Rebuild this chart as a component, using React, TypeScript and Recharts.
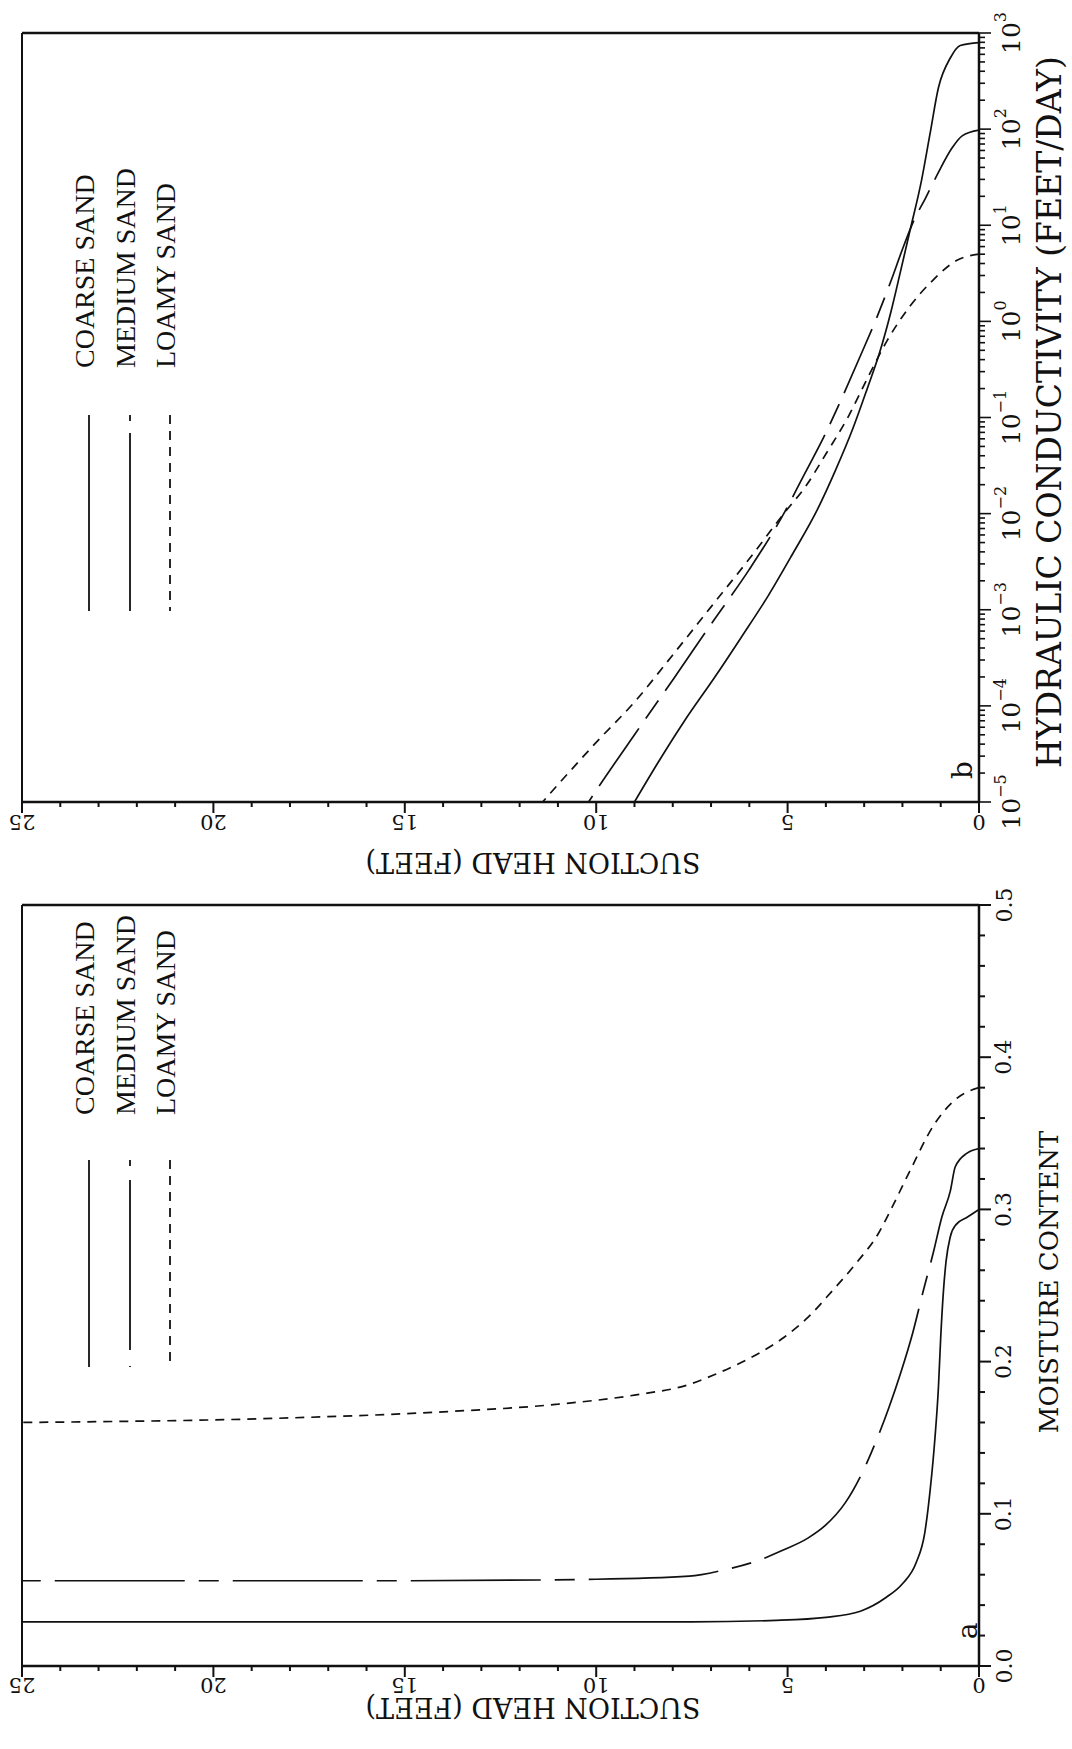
import { LineChart, Line, XAxis, YAxis, ReferenceLine, Legend } from 'recharts';

const FONT = '"DejaVu Serif", "Liberation Serif", serif';
const LEGEND_FONT = '"Liberation Serif", "Times New Roman", serif';
const INK = '#111';

// suction head axis, shared by both panels
const headTicks = [0, 1, 2, 3, 4, 5, 6, 7, 8, 9, 10, 11, 12, 13, 14, 15, 16, 17, 18, 19, 20, 21, 22, 23, 24, 25];

// moisture content axis (panel a)
const moistureTicks = [0, 0.02, 0.04, 0.06, 0.08, 0.1, 0.12, 0.14, 0.16, 0.18, 0.2, 0.22, 0.24, 0.26, 0.28, 0.3, 0.32, 0.34, 0.36, 0.38, 0.4, 0.42, 0.44, 0.46, 0.48, 0.5];
const moistureLabels = ['0.0', '0.1', '0.2', '0.3', '0.4', '0.5'];

// hydraulic conductivity axis (panel b), decades 10^-5 .. 10^3
const decadeExps = [-5, -4, -3, -2, -1, 0, 1, 2, 3];
const minorMults = [2, 3, 4, 5, 6, 7, 8, 9];

const seriesNames = ['COARSE SAND', 'MEDIUM SAND', 'LOAMY SAND'];

// panel a: suction head (ft) vs moisture content
const coarseHeadA = [0, 0.3, 0.6, 0.75, 0.86, 0.93, 1.0, 1.06, 1.15, 1.27, 1.42, 1.64, 2.0, 2.43, 3.1, 4.0, 5.3, 7.5, 12, 18, 25];
const coarseMoist = [0.3, 0.295, 0.29, 0.282, 0.266, 0.246, 0.216, 0.183, 0.15, 0.117, 0.087, 0.068, 0.054, 0.045, 0.036, 0.032, 0.03, 0.029, 0.029, 0.029, 0.029];
const mediumHeadA = [0, 0.31, 0.62, 0.75, 0.97, 1.19, 1.46, 1.73, 2.04, 2.35, 2.7, 3.05, 3.5, 4.03, 4.47, 5.13, 5.8, 6.68, 7.57, 10, 15, 20, 25];
const mediumMoist = [0.34, 0.337, 0.328, 0.312, 0.295, 0.272, 0.246, 0.219, 0.193, 0.17, 0.147, 0.127, 0.107, 0.092, 0.084, 0.076, 0.069, 0.063, 0.059, 0.057, 0.056, 0.056, 0.056];
const loamyHeadA = [0, 0.58, 1.19, 1.81, 2.26, 2.61, 3.23, 3.85, 4.47, 5.09, 5.71, 6.33, 6.95, 7.57, 9, 11, 14, 18, 25];
const loamyMoist = [0.38, 0.373, 0.355, 0.325, 0.302, 0.285, 0.264, 0.246, 0.229, 0.216, 0.206, 0.198, 0.191, 0.185, 0.178, 0.172, 0.167, 0.163, 0.16];

// panel b: suction head (ft) vs log10 of conductivity (ft/day)
const coarseHeadB = [0, 0.49, 0.75, 1.06, 1.28, 1.5, 1.8, 2.05, 2.3, 2.6, 2.92, 3.3, 3.75, 4.25, 4.87, 5.5, 6.2, 6.9, 7.7, 8.4, 9.0];
const coarseLogK = [2.9, 2.87, 2.74, 2.43, 1.95, 1.47, 0.95, 0.52, 0.1, -0.33, -0.7, -1.12, -1.55, -1.98, -2.42, -2.85, -3.28, -3.7, -4.16, -4.6, -5.0];
const mediumHeadB = [0, 0.44, 0.71, 1.06, 1.4, 1.7, 2.0, 2.3, 2.65, 3.1, 3.55, 4.05, 4.6, 5.1, 6.0, 7.0, 8.0, 9.0, 10.0, 10.2];
const mediumLogK = [1.99, 1.93, 1.8, 1.55, 1.28, 1.05, 0.75, 0.42, 0.06, -0.36, -0.77, -1.2, -1.62, -2.0, -2.58, -3.15, -3.73, -4.3, -4.88, -5.0];
const loamyHeadB = [0, 0.6, 1.2, 1.8, 2.4, 2.9, 3.4, 4.0, 4.5, 5.1, 6.0, 7.0, 8.0, 9.0, 10.0, 11.0, 11.4];
const loamyLogK = [0.7, 0.63, 0.43, 0.16, -0.2, -0.58, -0.98, -1.38, -1.7, -2.0, -2.47, -2.97, -3.47, -3.96, -4.38, -4.82, -5.0];

const zipMoist = (h: number[], m: number[]) => h.map((v, i) => ({ h: v, m: m[i] }));
const zipCond = (h: number[], lk: number[]) => h.map((v, i) => ({ h: v, k: Math.pow(10, lk[i]) }));

const panelA = [zipMoist(coarseHeadA, coarseMoist), zipMoist(mediumHeadA, mediumMoist), zipMoist(loamyHeadA, loamyMoist)];
const panelB = [zipCond(coarseHeadB, coarseLogK), zipCond(mediumHeadB, mediumLogK), zipCond(loamyHeadB, loamyLogK)];

const condTicks: number[] = [];
decadeExps.forEach((e) => {
  condTicks.push(Math.pow(10, e));
  if (e < 3) minorMults.forEach((k) => condTicks.push(k * Math.pow(10, e)));
});

const dashA = ['', '130 14 20 14', '9 7'];
const dashB = ['', '70 12 22 12', '9 7'];

const W = 1072;
const PLOT_LEFT = 22;

const makeHeadTick = (labelGap: number) => (props: any) => {
  const { x, y, payload } = props;
  const v = payload.value;
  const major = v % 5 === 0;
  const ly = y + labelGap;
  return (
    <g>
      <line x1={x} y1={y} x2={x} y2={y + (major ? 11 : 5)} stroke={INK} strokeWidth={2} />
      {major && (
        <text x={x} y={ly} transform={`rotate(180 ${x} ${ly})`} textAnchor="middle" dominantBaseline="central" fontSize={21} fontFamily={FONT} fill={INK}>
          {v}
        </text>
      )}
    </g>
  );
};

const MoistureTick = (props: any) => {
  const { x, y, payload } = props;
  const v = payload.value;
  const idx = Math.round(v * 10);
  const major = Math.abs(v * 10 - idx) < 1e-6;
  const lx = x + 25;
  return (
    <g>
      <line x1={x} y1={y} x2={x + (major ? 12 : 6)} y2={y} stroke={INK} strokeWidth={2} />
      {major && (
        <text x={lx} y={y} transform={`rotate(-90 ${lx} ${y})`} textAnchor="middle" dominantBaseline="central" fontSize={22} fontFamily={FONT} fill={INK}>
          {moistureLabels[idx]}
        </text>
      )}
    </g>
  );
};

const CondTick = (props: any) => {
  const { x, y, payload } = props;
  const lg = Math.log10(payload.value);
  const e = Math.round(lg);
  const major = Math.abs(lg - e) < 1e-6;
  const lx = x + 32;
  return (
    <g>
      <line x1={x} y1={y} x2={x + (major ? 12 : 6)} y2={y} stroke={INK} strokeWidth={1.6} />
      {major && (
        <text x={lx} y={y} transform={`rotate(-90 ${lx} ${y})`} textAnchor="middle" dominantBaseline="central" fontSize={25} fontFamily={FONT} fill={INK}>
          10
          <tspan dy={-11} fontSize={16}>{e < 0 ? `\u2212${-e}` : `${e}`}</tspan>
        </text>
      )}
    </g>
  );
};

const headTitle = (yPos: number) => () => {
  const cx = 533;
  return (
    <text x={cx} y={yPos} transform={`rotate(180 ${cx} ${yPos})`} textAnchor="middle" dominantBaseline="central" fontSize={27} fontFamily={FONT} fill={INK}>
      SUCTION HEAD (FEET)
    </text>
  );
};

const sideTitle = (text: string, cy: number, size: number) => () => {
  const cx = 1049;
  return (
    <text x={cx} y={cy} transform={`rotate(-90 ${cx} ${cy})`} textAnchor="middle" dominantBaseline="central" fontSize={size} fontFamily={FONT} fill={INK}>
      {text}
    </text>
  );
};

function SoilLegend({ textBottom, lineTop, lineBottom, dashes, letter, letterPos }: any) {
  const textXs = [84, 125, 165];
  const lineXs = [89, 130, 170];
  return (
    <svg width={W} height={900} style={{ position: 'absolute', left: 0, top: 0, overflow: 'visible' }}>
      {seriesNames.map((name, i) => (
        <g key={name}>
          <text x={textXs[i]} y={textBottom} transform={`rotate(-90 ${textXs[i]} ${textBottom})`} dominantBaseline="central" fontSize={28} fontFamily={LEGEND_FONT} fill={INK}>
            {name}
          </text>
          <line x1={lineXs[i]} y1={lineTop} x2={lineXs[i]} y2={lineBottom} stroke={INK} strokeWidth={1.8} strokeDasharray={dashes[i] || undefined} />
        </g>
      ))}
      <text x={letterPos[0]} y={letterPos[1]} transform={`rotate(-90 ${letterPos[0]} ${letterPos[1]})`} textAnchor="middle" dominantBaseline="central" fontSize={28} fontFamily={FONT} fill={INK}>
        {letter}
      </text>
    </svg>
  );
}

function ConductivityPanel() {
  const h = 880;
  const plotBottom = 802;
  return (
    <LineChart width={W} height={h} margin={{ top: 33, right: 13, left: PLOT_LEFT, bottom: h - plotBottom - 50 }}>
      <XAxis dataKey="h" type="number" domain={[0, 25]} reversed ticks={headTicks} interval={0} allowDataOverflow height={50}
        tickSize={0} tickMargin={0} tick={makeHeadTick(20)} axisLine={{ stroke: INK, strokeWidth: 2.5 }}
        label={{ content: headTitle(plotBottom + 60) }} />
      <YAxis orientation="right" type="number" scale="log" domain={[1e-5, 1000]} ticks={condTicks} interval={0} allowDataOverflow width={80}
        tickSize={0} tickMargin={0} tick={CondTick} axisLine={{ stroke: INK, strokeWidth: 2.5 }}
        label={{ content: sideTitle('HYDRAULIC CONDUCTIVITY (FEET/DAY)', 412, 33) }} />
      <ReferenceLine y={1000} stroke={INK} strokeWidth={2.5} />
      <ReferenceLine x={25} stroke={INK} strokeWidth={2} />
      {panelB.map((d, i) => (
        <Line key={seriesNames[i]} name={seriesNames[i]} data={d} dataKey="k" type="monotone" stroke={INK} strokeWidth={1.7}
          strokeDasharray={dashB[i] || undefined} dot={false} activeDot={false} isAnimationActive={false} />
      ))}
      <Legend layout="vertical" align="center" verticalAlign="middle"
        wrapperStyle={{ position: 'absolute', left: 0, top: 0, width: 0, height: 0 }}
        content={() => <SoilLegend textBottom={368} lineTop={415} lineBottom={611} dashes={['', '6 12 400', '9 7']} letter="b" letterPos={[962, 770]} />} />
    </LineChart>
  );
}

function MoisturePanel() {
  const h = 869;
  const plotBottom = 786;
  return (
    <LineChart width={W} height={h} margin={{ top: 25, right: 13, left: PLOT_LEFT, bottom: h - plotBottom - 50 }}>
      <XAxis dataKey="h" type="number" domain={[0, 25]} reversed ticks={headTicks} interval={0} allowDataOverflow height={50}
        tickSize={0} tickMargin={0} tick={makeHeadTick(19)} axisLine={{ stroke: INK, strokeWidth: 2.5 }}
        label={{ content: headTitle(plotBottom + 41) }} />
      <YAxis orientation="right" type="number" domain={[0, 0.5]} ticks={moistureTicks} interval={0} allowDataOverflow width={80}
        tickSize={0} tickMargin={0} tick={MoistureTick} axisLine={{ stroke: INK, strokeWidth: 2.5 }}
        label={{ content: sideTitle('MOISTURE CONTENT', 402, 26) }} />
      <ReferenceLine y={0.5} stroke={INK} strokeWidth={2.5} />
      <ReferenceLine x={25} stroke={INK} strokeWidth={2} />
      {panelA.map((d, i) => (
        <Line key={seriesNames[i]} name={seriesNames[i]} data={d} dataKey="m" type="monotone" stroke={INK} strokeWidth={1.7}
          strokeDasharray={dashA[i] || undefined} dot={false} activeDot={false} isAnimationActive={false} />
      ))}
      <Legend layout="vertical" align="center" verticalAlign="middle"
        wrapperStyle={{ position: 'absolute', left: 0, top: 0, width: 0, height: 0 }}
        content={() => <SoilLegend textBottom={235} lineTop={280} lineBottom={487} dashes={['', '6 14 170 16 4 100', '9 7']} letter="a" letterPos={[967, 751]} />} />
    </LineChart>
  );
}

export default function App() {
  return (
    <div style={{ position: 'absolute', left: 0, top: 0, width: W, height: 1749, background: '#fff', overflow: 'hidden' }}>
      <div style={{ position: 'absolute', left: 0, top: 0 }}>
        <ConductivityPanel />
      </div>
      <div style={{ position: 'absolute', left: 0, top: 880 }}>
        <MoisturePanel />
      </div>
    </div>
  );
}
